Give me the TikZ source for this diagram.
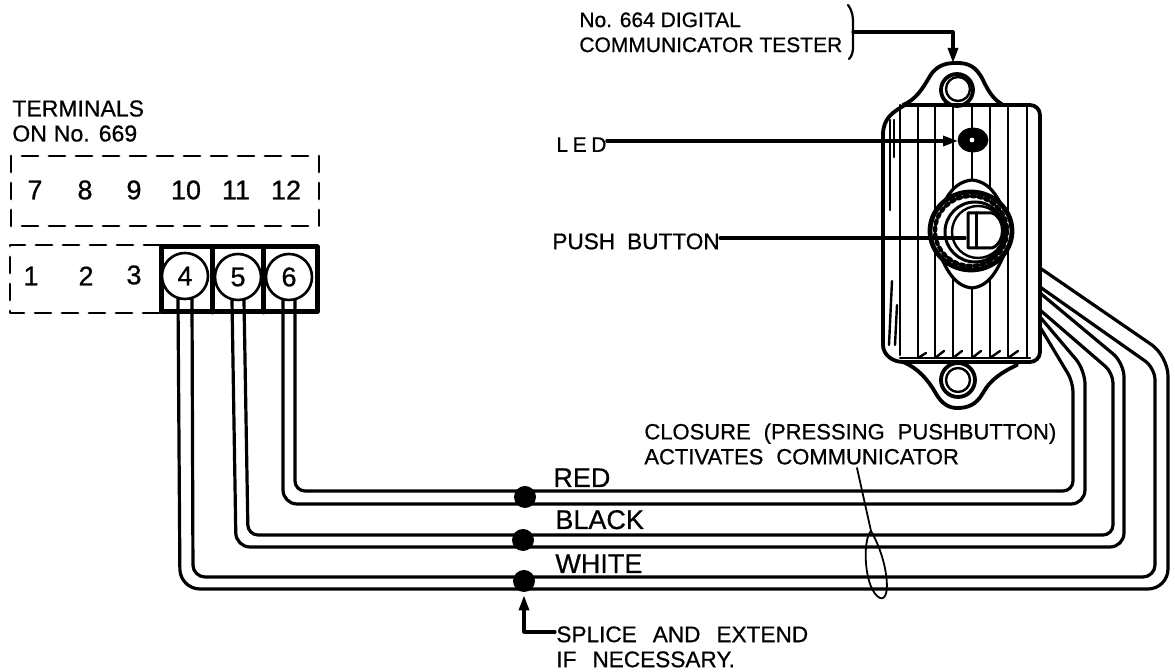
\documentclass[tikz,border=0pt]{standalone}
\usepackage{fontspec}
\setmainfont[FakeBold=0.7]{Liberation Sans}
\usetikzlibrary{arrows.meta, calc, positioning}
\newcommand{\spacedfont}[2]{\fontsize{#1}{12.5}\selectfont\spaceskip=#2 plus 0pt\relax}
\newcommand{\ledfont}{\fontsize{10.5}{12.5}\addfontfeature{LetterSpace=22}\selectfont}
\tikzset{
	labeltext/.style={font=\fontsize{10.5}{12.5}\selectfont, inner sep=0pt, align=left, anchor=north west},
	colourtext/.style={font=\fontsize{13.5}{15}\selectfont, inner sep=0pt, anchor=base west},
	digit/.style={font=\fontsize{13.5}{15}\selectfont, inner sep=0pt},
	terminal/.style={circle, draw, fill=white, line width=1.3pt, minimum size=23pt, inner sep=0pt, font=\fontsize{13.5}{15}\selectfont},
	splicedot/.style={circle, fill=black, minimum size=11pt, inner sep=0pt},
	wire/.style={line width=1.6pt},
	dashbox/.style={line width=1.4pt, dash pattern=on 8pt off 5.5pt},
	rib/.style={line width=1.2pt},
	leader/.style={line width=1.6pt}
}
\begin{document}
\begin{tikzpicture}[x=0.5pt, y=-0.5pt, line cap=round, line join=round, >={Triangle[length=7.5pt,width=5pt]}]
	\useasboundingbox (0,0) rectangle (1175,672);

	% terminal strip
	\draw [dashbox] (11,156) rectangle (319,226);
	\draw [dashbox] (160,245)--(10,245)--(10,313)--(160,313);
	\draw [line width=2.5pt] (161,247) rectangle (317,312);
	\draw [line width=2.5pt] (212,247)--(212,312);
	\draw [line width=2.5pt] (263,247)--(263,312);

	\node [digit] (T7) at (35,190) {7};
	\node [digit] (T8) at (85,190) {8};
	\node [digit] (T9) at (134,190) {9};
	\node [digit] (T10) at (186,190) {10};
	\node [digit] (T11) at (236,190) {11};
	\node [digit] (T12) at (286,190) {12};
	\node [digit] (T1) at (31,276) {1};
	\node [digit] (T2) at (86,276) {2};
	\node [digit] (T3) at (134,275) {3};
	\node [terminal] (T4) at (185,276) {4};
	\node [terminal] (T5) at (238,277) {5};
	\node [terminal] (T6) at (289,277) {6};

	\node [labeltext,font=\spacedfont{11.5}{3.5pt}] (terminals) at (12,100) {TERMINALS\\ON No. 669};

	% wires
	\coordinate (R1) at ($(T6.south)+(-6,-1)$);
	\coordinate (R2) at ($(T6.south)+(6,-1)$);
	\coordinate (K1) at ($(T5.south)+(-6,-1)$);
	\coordinate (K2) at ($(T5.south)+(6,-1)$);
	\coordinate (W1) at ($(T4.south)+(-7,-1)$);
	\coordinate (W2) at ($(T4.south)+(7,-1)$);

	\coordinate (R3) at (1040,327);
	\coordinate (R4) at (1040,317);
	\coordinate (K3) at (1040,310);
	\coordinate (K4) at (1040,293);
	\coordinate (W3) at (1040,287);
	\coordinate (W4) at (1040,268);

	\draw [wire,rounded corners=5pt] (R2)--(295,491)--(1073,491)--(1073,382)--(R3);
	\draw [wire,rounded corners=7pt] (R1)--(283,504)--(1085,504)--(1085,370)--(R4);
	\draw [wire,rounded corners=5pt] (K2)--(248,535)--(1113,535)--(1113,373)--(K3);
	\draw [wire,rounded corners=7pt] (K1)--(236,547)--(1124,547)--(1124,363)--(K4);
	\draw [wire,rounded corners=6pt] (W2)--(193,577)--(1155,577)--(1155,368)--(W3);
	\draw [wire,rounded corners=10pt] (W1)--(180,589)--(1168,589)--(1168,356)--(W4);

	\node [splicedot] (spliceR) at (525,497) {};
	\node [splicedot] (spliceK) at (523,540) {};
	\node [splicedot] (spliceW) at (524,581) {};

	\node [colourtext] (red) at (553,487) {RED};
	\node [colourtext] (black) at (555,529) {BLACK};
	\node [colourtext] (white) at (555,573) {WHITE};

	\node [labeltext,font=\spacedfont{11.3}{8pt}] (splice) at (556,626) {SPLICE AND EXTEND\\IF NECESSARY.};
	\draw [->,leader] ($(splice.north west)+(-1,6)$) -| ($(spliceW.south)+(0,3)$);

	% wire loop
	\node [labeltext,font=\spacedfont{11}{6.5pt}] (closure) at (644,423) {CLOSURE (PRESSING PUSHBUTTON)\\ACTIVATES COMMUNICATOR};
	\coordinate (L1) at (857,468);
	\coordinate (L2) at (871,531);
	\draw [line width=0.9pt] (L1)--(L2) .. controls (862,540) and (864,590) .. (880,598) .. controls (892,602) and (888,560) .. (L2);

	% tester body
	\draw [rib] (900,105)--(900,355);
	\draw [rib] (918,105)--(918,358);
	\draw [rib] (935,105)--(935,358);
	\draw [rib] (953,105)--(953,358);
	\draw [rib] (972,105)--(972,358);
	\draw [rib] (990,105)--(990,358);
	\draw [rib] (1008,105)--(1008,358);
	\draw [rib] (1027,105)--(1027,358);

	\draw [rib] (918,358)--(926,353);
	\draw [rib] (935,358)--(944,351);
	\draw [rib] (953,358)--(962,351);
	\draw [rib] (972,358)--(981,351);
	\draw [rib] (990,358)--(1000,351);
	\draw [rib] (1008,358)--(1018,351);
	\draw [rib] (900,358)--(1030,358);

	\draw [rib] (890,120)--(890,210);
	\draw [rib] (894,120)--(894,157);
	\draw [rib] (892,281)--(889,345);
	\draw [rib] (897,305)--(895,345);

	\draw [line width=1.9pt,rounded corners=5pt] (905,105)--(1040,105)--(1040,362)--(903,362);
	\draw [line width=1.9pt] (905,105) .. controls (893,112) and (883,118) .. (883,135)--(883,345) .. controls (883,355) and (893,362) .. (903,362);

	% mounting ears
	\draw [line width=1.9pt] (903,105) .. controls (915,100) and (922,90) .. (930,76) .. controls (938,63) and (950,63) .. (957,63) .. controls (968,63) and (976,66) .. (983,80) .. controls (990,95) and (995,100) .. (1003,105);
	\draw [line width=1.9pt] (903,362) .. controls (918,368) and (928,380) .. (935,392) .. controls (942,405) and (950,408) .. (957,408) .. controls (968,408) and (976,405) .. (983,393) .. controls (990,380) and (1002,372) .. (1017,365);
	\draw [line width=1.9pt] (957,90) circle [radius=16];
	\draw [line width=1.2pt] (958,89) circle [radius=12];
	\draw [line width=1.9pt] (958,380) circle [radius=17];
	\draw [line width=1.2pt] (958,380) circle [radius=12];

	% led
	\draw [fill=black] (973,140) ellipse [x radius=15, y radius=12];
	\draw [fill=white,draw=white] (972,140) circle [radius=2];

	% push button
	\draw [fill=white,line width=1.6pt] (972,180) .. controls (992,182) and (1000,200) .. (1010,225)--(1010,240) .. controls (1000,265) and (992,286) .. (972,288) .. controls (952,286) and (944,265) .. (934,240)--(934,225) .. controls (944,200) and (952,182) .. (972,180)--cycle;
	\draw [fill=white,line width=2.4pt] (971,231) ellipse [x radius=41, y radius=39];
	\draw [line width=2.2pt,dash pattern=on 1.5pt off 2pt] (971,231) ellipse [x radius=36, y radius=35];
	\draw [line width=1.5pt] (975,232) circle [radius=30];
	\draw [line width=1.2pt] (978,232) circle [radius=26];
	\draw [fill=white,line width=1.5pt] (968,213)--(992,213) .. controls (1006,218) and (1006,243) .. (992,248)--(968,248)--cycle;
	\draw [line width=1.5pt] (976,213)--(976,248);

	% leaders
	\node [labeltext] (tester) at (579,12) {No. 664 DIGITAL\\COMMUNICATOR TESTER};
	\draw [line width=1.1pt] (848,5) .. controls (853,12) and (853,17) .. (853,25)--(853,47) .. controls (853,52) and (852,56) .. (849,59);
	\coordinate (B1) at (853,32);
	\coordinate (E1) at (953,63);
	\draw [->,leader] (B1) -| (E1);

	\node [labeltext,font=\ledfont] (led) at (556,137) {LED};
	\coordinate (E2) at (958,141);
	\draw [->,leader] (led.east |- E2) -- (E2);

	\node [labeltext,font=\spacedfont{11.3}{6pt}] (button) at (552,233) {PUSH BUTTON};
	\coordinate (E3) at (965,238);
	\draw [leader] (button.east |- E3) -- (E3);
\end{tikzpicture}
\end{document}
